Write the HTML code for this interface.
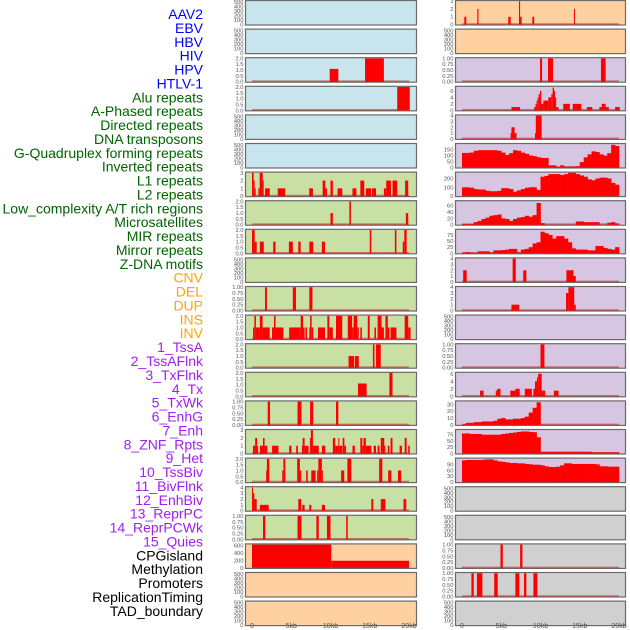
<!DOCTYPE html>
<html><head><meta charset="utf-8"><style>
html,body{margin:0;padding:0;background:#fff;width:630px;height:630px;overflow:hidden}
svg{display:block}
</style></head><body>
<svg id="chart" width="630" height="630" viewBox="0 0 630 630" xmlns="http://www.w3.org/2000/svg" font-family="Liberation Sans, sans-serif"></svg>
<script>
// ---------- data ----------
const trackLabels = ["AAV2","EBV","HBV","HIV","HPV","HTLV-1","Alu repeats","A-Phased repeats","Directed repeats","DNA transposons","G-Quadruplex forming repeats","Inverted repeats","L1 repeats","L2 repeats","Low_complexity A/T rich regions","Microsatellites","MIR repeats","Mirror repeats","Z-DNA motifs","CNV","DEL","DUP","INS","INV","1_TssA","2_TssAFlnk","3_TxFlnk","4_Tx","5_TxWk","6_EnhG","7_Enh","8_ZNF_Rpts","9_Het","10_TssBiv","11_BivFlnk","12_EnhBiv","13_ReprPC","14_ReprPCWk","15_Quies","CPGisland","Methylation","Promoters","ReplicationTiming","TAD_boundary"];
const labelColors = ["blue","blue","blue","blue","blue","blue","#006400","#006400","#006400","#006400","#006400","#006400","#006400","#006400","#006400","#006400","#006400","#006400","#006400","orange","orange","orange","orange","orange","#a020f0","#a020f0","#a020f0","#a020f0","#a020f0","#a020f0","#a020f0","#a020f0","#a020f0","#a020f0","#a020f0","#a020f0","#a020f0","#a020f0","#a020f0","#000","#000","#000","#000","#000"];
const xTickValues = [0,5,10,15,20];
const xTickLabels = ["0","5kb","10kb","15kb","20kb"];

// segment tracks: [startKb, endKb, value]
const segHBV = [[9.9,11.0,1.1],[14.4,16.8,2]];
const segHIV = [[18.5,20.1,2]];
const segL1 = [[0,0.21,3],[0.21,0.34,2],[0.34,0.47,1],[0.81,0.98,1],[0.98,1.36,3],[1.36,1.49,2],[1.66,2.26,1],[3.28,4.22,1],[7.29,7.76,1],[9.0,9.34,2],[9.34,9.55,1],[10.0,10.3,2],[10.9,11.5,1],[12.8,13.3,1],[13.8,14.3,2],[14.5,15.2,1],[15.3,15.8,1],[16.8,17.1,1],[17.1,17.7,2],[17.9,18.5,2],[19.5,19.9,2]];
const segL2 = [[10.0,10.3,1],[12.4,12.6,2],[19.6,19.9,1]];
const segLowComplexity = [[0,0.34,2],[0.34,0.6,1],[1.0,1.5,1],[2.7,3.0,1],[4.7,5.2,1],[5.9,6.2,1],[7.3,7.8,1],[8.9,9.3,1],[15.0,15.2,2],[18.2,18.4,2],[19.2,19.4,1],[19.4,19.7,2]];
const segMIR = [[1.66,1.9,1],[5.2,5.6,1],[7.3,7.7,1]];
const segMirror = [[0.13,0.3,1],[0.3,0.5,2],[0.5,1.0,1],[1.0,1.35,2],[1.35,2.26,1],[2.55,2.8,1],[2.8,3.0,2],[3.0,4.0,1],[4.73,6.2,1],[6.2,6.5,2],[6.5,6.7,1],[6.8,7.0,1],[7.3,7.4,1],[7.4,7.6,2],[7.6,7.8,1],[8.4,9.3,1],[9.6,9.85,2],[9.85,10.3,1],[10.7,11.5,2],[12.2,12.75,2],[12.75,12.95,1],[12.95,13.4,2],[13.4,13.6,1],[13.8,14.0,1],[14.75,15.0,2],[15.6,15.8,1],[16.0,16.5,2],[16.5,16.8,1],[17.0,17.3,2],[17.3,17.5,1],[17.65,18.4,1],[19.45,19.9,2],[19.9,20.2,1]];
const segZDNA = [[12.3,13.0,1],[13.1,13.6,1],[15.4,15.6,2],[15.8,16.4,2]];
const segCNV = [[13.5,14.6,1.1],[17.5,17.9,2]];
const segDEL = [[2.0,2.3,1],[5.8,6.3,1],[7.4,7.8,1],[10.7,11.0,1]];
const segDUP = [[0.13,0.4,1],[0.4,0.65,2],[0.65,0.7,1],[1.0,1.4,1],[1.4,1.6,2],[1.6,1.96,1],[2.56,3.37,1],[4.73,5.03,1],[5.63,5.85,1],[6.36,6.45,1],[6.45,6.7,2],[6.7,7.2,1],[7.37,7.5,2],[7.5,7.76,3],[7.76,7.9,1],[7.9,8.5,1],[8.9,9.34,1],[10.3,10.6,2],[10.6,11.0,1],[11.0,11.1,2],[11.1,11.5,1],[11.55,11.77,2],[11.77,11.98,1],[12.8,13.1,1],[13.8,14.05,2],[14.05,14.2,1],[14.2,14.5,2],[14.5,15.2,1],[15.5,15.8,1],[16.0,16.25,1],[16.4,16.85,2],[16.85,17.0,1],[17.3,17.5,1],[17.65,17.9,2],[18.8,19.1,1],[19.45,19.7,2],[19.9,20.1,1]];
const segGQ16 = [[1.8,1.9,1],[1.9,2.2,2],[3.85,4.0,1],[4.0,4.25,2],[5.76,6.1,2],[6.1,6.27,1],[6.9,7.1,1],[7.55,8.1,1],[8.3,8.45,1],[8.45,8.9,2],[8.9,9.0,1],[11.35,11.75,1],[12.15,12.65,2],[16.2,16.6,2],[17.35,17.75,1],[18.6,19.0,1]];
const segMulti17 = [[0,0.13,4],[0.13,0.3,3],[0.3,0.6,2],[1.0,2.13,1],[5.9,6.27,2],[6.4,6.7,1],[7.3,7.55,1],[8.9,9.3,1],[15.2,15.45,2],[16.4,16.55,2],[16.55,17.0,2],[19.3,19.65,2]];
const segZ18 = [[1.4,1.7,1],[5.8,6.3,1],[8.2,8.5,1],[9.55,10.0,1],[12.0,12.2,1]];
const segCPG = [[0,10.1,620],[10.1,20,190]];
const segINS = [[0.3,0.55,1],[1.95,2.1,2],[5.9,6.2,1],[7.26,7.4,3],[7.4,7.6,1],[8.96,9.2,1],[14.27,14.4,2]];
const segTssA = [[9.94,10.2,1],[10.96,11.6,1],[17.7,18.3,1]];
const segTssAFlnk = [[6.3,7.4,1],[9.2,9.37,1],[9.37,9.5,2],[9.5,9.64,3],[9.64,9.77,4],[9.77,9.93,5],[9.93,10.1,6],[10.1,10.36,2],[10.36,11.0,3],[11.0,11.38,4],[11.38,11.55,5],[11.55,11.72,7],[11.72,11.85,6],[11.85,12.0,4],[12.0,12.3,1],[12.9,13.75,2],[14.1,15.2,2],[15.9,16.6,1],[17.5,17.8,1],[17.8,18.3,2],[18.3,18.7,1],[19.5,20.1,1]];
const segTxFlnk = [[6.2,6.3,1],[6.3,6.7,2],[6.7,6.95,1],[9.3,9.4,1],[9.4,10.15,4]];
const segZNF = [[0.15,0.6,2],[6.45,6.85,4],[7.8,8.2,2],[13.3,14.2,2],[14.2,14.5,1]];
const segHet = [[6.3,7.3,1],[13.25,13.55,3],[13.55,14.3,4],[14.3,14.5,1]];
const segBivFlnk = [[10.0,10.5,1]];
const segEnhBiv = [[2.3,2.75,1.5],[4.3,4.5,1.5],[4.5,4.9,2],[6.15,6.8,1.5],[6.8,7.35,2],[8.0,8.9,2],[9.1,9.3,2],[9.3,9.55,4],[9.55,9.7,5],[9.7,10.15,6],[10.15,10.6,1.5],[11.7,12.3,1.5]];
const segMeth = [[4.9,5.2,1],[7.4,7.7,1]];
const segPromoters = [[1.2,1.5,1],[1.9,2.6,1],[4.1,4.55,1],[6.8,7.3,1],[7.9,8.2,1],[9.1,9.6,1]];

// binned tracks: 40 bins of 0.5 kb
const binTx = [122,122,125,140,145,145,145,145,145,140,125,105,120,145,140,125,115,100,95,85,80,80,18,18,5,18,8,8,8,10,45,85,110,135,130,110,100,120,190,180];
const binTxWk = [100,100,95,80,75,75,60,55,55,60,90,90,80,50,65,80,95,100,100,70,220,230,250,250,250,240,250,265,265,250,235,220,190,180,200,210,210,200,150,130];
const binEnhG = [2,2,2,8,12,18,22,28,30,32,20,18,12,18,22,24,28,25,30,68,5,0,0,0,0,0,0,0,0,10,10,8,8,8,8,0,0,6,8,4];
const binEnh = [3,5,2,2,8,8,8,3,12,12,13,15,18,18,3,15,18,25,40,45,88,82,75,60,70,70,60,45,20,15,15,15,12,12,30,30,22,18,15,25];
const binReprPC = [1,3,3,4,4,5,5,5,6,9,10,8,8,9,9,10,12,18,25,33,0,0,0,0,0,0,0,0,0,0,0,0,0,0,0,0,0,0,0,0];
const binReprPCWk = [80,80,78,78,78,75,75,75,75,75,78,80,82,84,86,88,88,86,85,65,7,7,7,7,7,7,7,7,7,7,7,7,7,5,5,5,5,5,5,5];
const binQuies = [110,112,112,112,112,113,115,115,110,105,103,100,97,97,95,95,92,90,88,88,85,80,77,76,78,85,95,95,92,92,92,92,92,92,90,80,80,78,78,78];

// ---------- panel config ----------
const BLUE="#c8e4ec", GREEN="#c8e0a4", ORANGE="#ffd0a0", PURPLE="#d6c6e2", GRAY="#d0d0d0";
const blankTicks=[0,100,200,300,400,500];
const t2=[0,0.5,1.0,1.5,2.0], t1=[0,0.25,0.5,0.75,1.0];
const fmt2=v=>v.toFixed(1), fmt1=v=>v.toFixed(2), fmtI=v=>String(v);
const leftPanels = [
 {name:"AAV2",bg:BLUE},{name:"EBV",bg:BLUE},
 {name:"HBV",bg:BLUE,ymax:2,ticks:t2,f:fmt2,seg:segHBV},
 {name:"HIV",bg:BLUE,ymax:2,ticks:t2,f:fmt2,seg:segHIV},
 {name:"HPV",bg:BLUE},{name:"HTLV-1",bg:BLUE},
 {name:"Alu",bg:GREEN,ymax:3,ticks:[0,1,2,3],f:fmtI,seg:segL1},
 {name:"A-Phased",bg:GREEN,ymax:2,ticks:t2,f:fmt2,seg:segL2},
 {name:"Directed",bg:GREEN,ymax:2,ticks:t2,f:fmt2,seg:segLowComplexity},
 {name:"DNA-transposons",bg:GREEN},
 {name:"G-Quadruplex",bg:GREEN,ymax:1,ticks:t1,f:fmt1,seg:segMIR},
 {name:"Inverted",bg:GREEN,ymax:2,ticks:t2,f:fmt2,seg:segMirror},
 {name:"L1",bg:GREEN,ymax:2,ticks:t2,f:fmt2,seg:segZDNA},
 {name:"L2",bg:GREEN,ymax:2,ticks:t2,f:fmt2,seg:segCNV},
 {name:"Low-complexity",bg:GREEN,ymax:1,ticks:t1,f:fmt1,seg:segDEL},
 {name:"Microsatellites",bg:GREEN,ymax:3,ticks:[0,1,2,3],f:fmtI,seg:segDUP},
 {name:"MIR",bg:GREEN,ymax:2,ticks:t2,f:fmt2,seg:segGQ16},
 {name:"Mirror",bg:GREEN,ymax:4,ticks:[0,1,2,3,4],f:fmtI,seg:segMulti17},
 {name:"Z-DNA",bg:GREEN,ymax:1,ticks:t1,f:fmt1,seg:segZ18},
 {name:"CNV",bg:ORANGE,ymax:620,ticks:[0,200,400,600],f:fmtI,seg:segCPG,nobase:true},
 {name:"DEL",bg:ORANGE},{name:"DUP",bg:ORANGE}
];
const rightPanels = [
 {name:"INS",bg:ORANGE,ymax:3,ticks:[0,1,2,3],f:fmtI,seg:segINS},
 {name:"INV",bg:ORANGE},
 {name:"1-TssA",bg:PURPLE,ymax:1,ticks:t1,f:fmt1,seg:segTssA},
 {name:"2-TssAFlnk",bg:PURPLE,ymax:7.2,ticks:[0,2,4,6],f:fmtI,seg:segTssAFlnk},
 {name:"3-TxFlnk",bg:PURPLE,ymax:4,ticks:[0,1,2,3,4],f:fmtI,seg:segTxFlnk},
 {name:"4-Tx",bg:PURPLE,ymax:195,ticks:[0,50,100,150],f:fmtI,bins:binTx},
 {name:"5-TxWk",bg:PURPLE,ymax:265,ticks:[0,100,200],f:fmtI,bins:binTxWk},
 {name:"6-EnhG",bg:PURPLE,ymax:73,ticks:[0,20,40,60],f:fmtI,bins:binEnhG},
 {name:"7-Enh",bg:PURPLE,ymax:95,ticks:[0,25,50,75],f:fmtI,bins:binEnh},
 {name:"8-ZNF-Rpts",bg:PURPLE,ymax:4,ticks:[0,1,2,3,4],f:fmtI,seg:segZNF},
 {name:"9-Het",bg:PURPLE,ymax:4,ticks:[0,1,2,3,4],f:fmtI,seg:segHet},
 {name:"10-TssBiv",bg:PURPLE},
 {name:"11-BivFlnk",bg:PURPLE,ymax:1,ticks:t1,f:fmt1,seg:segBivFlnk},
 {name:"12-EnhBiv",bg:PURPLE,ymax:6.2,ticks:[0,2,4,6],f:fmtI,seg:segEnhBiv},
 {name:"13-ReprPC",bg:PURPLE,ymax:34,ticks:[0,10,20,30],f:fmtI,bins:binReprPC},
 {name:"14-ReprPCWk",bg:PURPLE,ymax:93,ticks:[0,25,50,75],f:fmtI,bins:binReprPCWk},
 {name:"15-Quies",bg:PURPLE,ymax:118,ticks:[0,30,60,90],f:fmtI,bins:binQuies},
 {name:"CPGisland",bg:GRAY},{name:"Methylation-gray",bg:GRAY},
 {name:"Methylation",bg:GRAY,ymax:1,ticks:t1,f:fmt1,seg:segMeth},
 {name:"Promoters",bg:GRAY,ymax:1,ticks:t1,f:fmt1,seg:segPromoters},
 {name:"TAD-boundary",bg:GRAY}
];

// ---------- drawing ----------
const NS="http://www.w3.org/2000/svg";
const svg=document.getElementById('chart');
function mk(tag,attrs,parent){const e=document.createElementNS(NS,tag);for(const k in attrs)e.setAttribute(k,attrs[k]);(parent||svg).appendChild(e);return e;}

// left labels
trackLabels.forEach((lab,i)=>{
  const t=mk('text',{x:203,y:19+i*13.88,'text-anchor':'end','font-size':'14',fill:labelColors[i]});
  t.textContent=lab;
  
  
});

const PITCH=28.6, PH=24.5;
function drawColumn(panels,fx0,fx1,x0,side){
  const xs=kb=>x0+kb*7.85;
  panels.forEach((p,r)=>{
    const top=0.5+r*PITCH;
    const g=mk('g',{});
    
    
    mk('rect',{x:fx0,y:top,width:fx1-fx0,height:PH,fill:p.bg,stroke:'#6a6a6a','stroke-width':1.2},g);
    const ymax=p.ymax||520, ticks=p.ticks||blankTicks, f=p.f||fmtI;
    const ys=v=>top+24-v/ymax*23.3;
    ticks.forEach(v=>{
      const tt=mk('text',{x:fx0-2,y:ys(v)+2,'text-anchor':'end','font-size':'5.8',fill:'#555'},g);
      tt.textContent=f(v);
      
      
    });
    if(!p.ymax) return;
    if(!p.nobase){
      const bl=mk('line',{x1:xs(0),x2:xs(20),y1:ys(0)-0.5,y2:ys(0)-0.5,stroke:'rgba(190,30,30,0.55)','stroke-width':1.6},g);
      
      
    }
    if(p.seg){
      p.seg.forEach(s=>{
        const xa=xs(s[0]), xb=xs(s[1]);
        const b=mk('rect',{x:xa,y:ys(s[2]),width:Math.max(1,xb-xa),height:ys(0)-ys(s[2]),fill:'#ff0000'},g);
        
        
      });
    }
    if(p.bins){
      p.bins.forEach((v,i)=>{
        if(v<=0) return;
        const xa=xs(i*0.5), xb=xs(i*0.5+0.5);
        const b=mk('rect',{x:xa,y:ys(v),width:xb-xa+0.3,height:ys(0)-ys(v),fill:'#ff0000'},g);
        
        
      });
    }
  });
  xTickValues.forEach((v,i)=>{
    const t=mk('text',{x:xs(v),y:628,'text-anchor':'middle','font-size':'7',fill:'#555'});
    t.textContent=xTickLabels[i];
    
    
  });
}
drawColumn(leftPanels,245.5,416.5,252,'left');
drawColumn(rightPanels,455.5,625.5,462,'right');
</script>
</body></html>
